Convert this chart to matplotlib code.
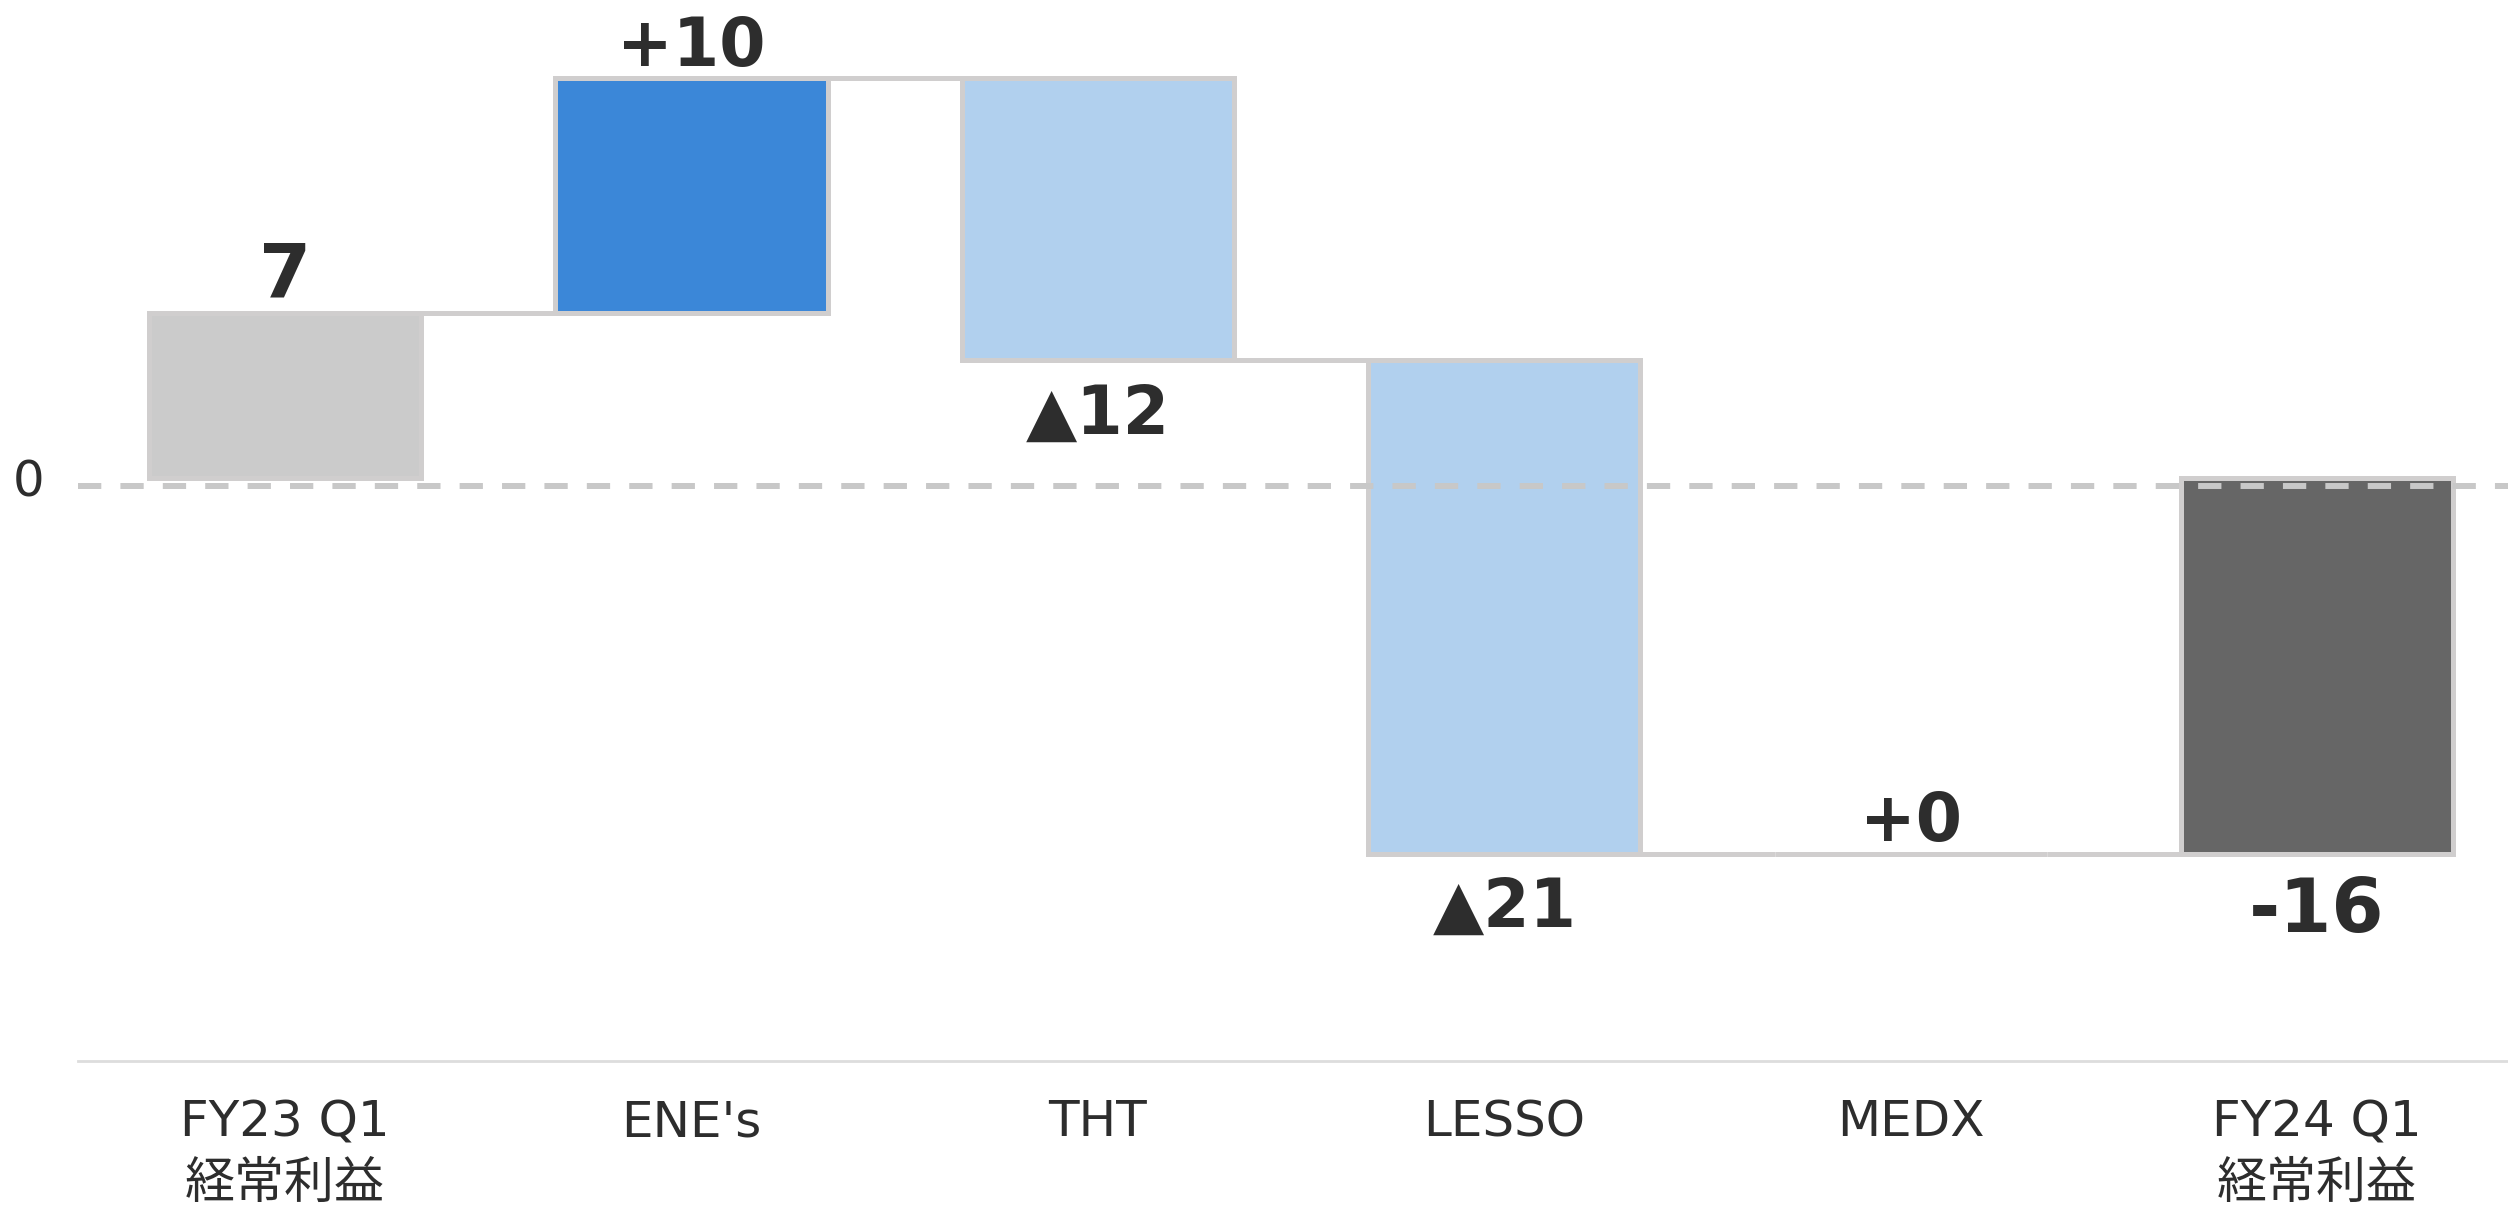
import matplotlib
matplotlib.use("Agg")
import matplotlib.pyplot as plt
from matplotlib.transforms import ScaledTranslation
import numpy as np

plt.rcParams['font.family'] = ['DejaVu Sans', 'Noto Sans CJK JP']

# ---- data ----
categories = ["FY23 Q1\n経常利益", "ENE's", "THT", "LESSO", "MEDX", "FY24 Q1\n経常利益"]
start_value = 7
deltas = [10, -12, -21, 0]
end_value = -16
value_labels = ["7", "+10", "▲12", "▲21", "+0", "-16"]

# ---- styles ----
bar_colors = ["#cbcbcb", "#3b87d8", "#b1d0ee", "#b1d0ee", "#b1d0ee", "#666666"]
edge_color = "#d0cece"
text_color = "#2d2d2d"
bar_width = 0.67

# ---- compute waterfall geometry from data ----
n = len(categories)
bottoms = [0]
heights = [start_value]
cum = start_value
levels = [cum]
for d in deltas:
    if d >= 0:
        bottoms.append(cum)
        heights.append(d)
    else:
        bottoms.append(cum + d)
        heights.append(-d)
    cum += d
    levels.append(cum)
bottoms.append(min(0, end_value))
heights.append(abs(end_value))
levels.append(end_value)

fig = plt.figure(figsize=(25.08, 12.08), dpi=100)
ax = fig.add_axes([78 / 2508, 1 - 1061 / 1208, 1 - 78 / 2508, 1061 / 1208])

x = np.arange(n)
ax.bar(x, heights, bottom=bottoms, width=bar_width, color=bar_colors,
       edgecolor=edge_color, linewidth=3.6, zorder=3)

# connectors
for i in range(n - 1):
    ax.hlines(levels[i], i + bar_width / 2, i + 1 - bar_width / 2,
              color=edge_color, linewidth=3.6, zorder=2)

# zero dashed line
trans = ax.get_yaxis_transform() + ScaledTranslation(0, -6 / 72, fig.dpi_scale_trans)
ax.plot([0, 1], [0, 0], transform=trans, color="#c8c8c8", linewidth=4.3,
        dashes=(3.9, 3.2), solid_capstyle='butt', dash_capstyle='butt', zorder=4)

# value labels
all_vals = [start_value] + deltas + [end_value]
for i, (v, lab) in enumerate(zip(all_vals, value_labels)):
    endpoint = i == 0 or i == n - 1
    fs = 54 if endpoint else 48
    if v >= 0:
        y = bottoms[i] + heights[i]
        ax.annotate(lab, (i, y), xytext=(0, 12 if endpoint else 9),
                    textcoords='offset points', ha='center', va='baseline',
                    fontsize=fs, fontweight='bold', color=text_color, zorder=5)
    else:
        y = bottoms[i]
        ax.annotate(lab, (i, y), xytext=(0, -15),
                    textcoords='offset points', ha='center', va='top',
                    fontsize=fs, fontweight='bold', color=text_color, zorder=5)

ax.set_xlim(-0.51, 5.47)
ax.set_ylim(-24.81, 20.34)
ax.set_xticks(x)
ax.set_xticklabels(categories, fontsize=36, color=text_color, linespacing=1.35)
ax.set_yticks([0])
ax.set_yticklabels(["0"], fontsize=36, color=text_color)
ax.tick_params(axis='x', length=0, pad=27)
ax.tick_params(axis='y', length=0, pad=24)
for s in ['top', 'right', 'left']:
    ax.spines[s].set_visible(False)
ax.spines['bottom'].set_color("#dddddd")
ax.spines['bottom'].set_linewidth(2)

fig.savefig("out.png", dpi=100)
